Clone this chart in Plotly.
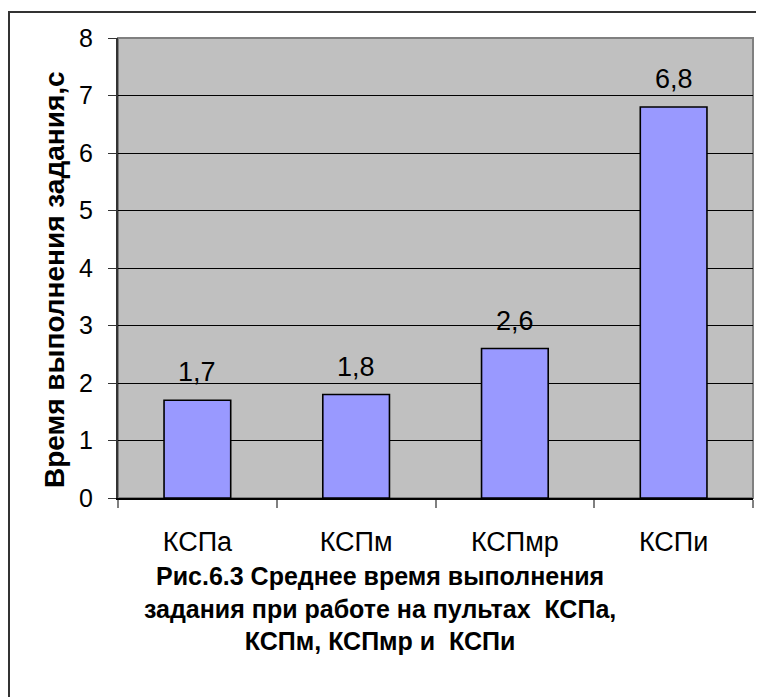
import plotly.graph_objects as go

categories = ["КСПа", "КСПм", "КСПмр", "КСПи"]
values = [1.7, 1.8, 2.6, 6.8]
value_labels = ["1,7", "1,8", "2,6", "6,8"]
y_ticks = [0, 1, 2, 3, 4, 5, 6, 7, 8]
y_title = "Время выполнения задания,с"
caption = "Рис.6.3 Среднее время выполнения<br>задания при работе на пультах  КСПа,<br>КСПм, КСПмр и  КСПи"

FONT = "Liberation Sans, Arial, sans-serif"

fig = go.Figure()
fig.add_trace(go.Bar(
    x=categories, y=values,
    marker=dict(color="#9999FF", line=dict(color="black", width=1.6)),
    width=0.42,
))

for c, v, t in zip(categories, values, value_labels):
    fig.add_annotation(x=c, y=v, text=t, showarrow=False, yanchor="bottom",
                       yshift=11, font=dict(family=FONT, size=27, color="black"))

W, H = 764, 697
L, R, T, B = 110, 19, 30, 207
pw, ph = W - L - R, H - T - B

# y-axis title (placed as rotated annotation to match the reference position)
fig.add_annotation(xref="paper", yref="paper", x=(46 - L) / pw, y=1 - (272 - T) / ph,
                   text=y_title, textangle=-90, showarrow=False,
                   xanchor="center", yanchor="middle",
                   font=dict(family=FONT, size=28, color="black", weight="bold"))

# caption
fig.add_annotation(xref="paper", yref="paper", x=(372 - L) / pw, y=-(552 - (H - B)) / ph,
                   text=caption, showarrow=False, xanchor="center", yanchor="top",
                   align="center",
                   font=dict(family=FONT, size=25, color="black", weight="bold"))

# outer frame
fig.add_shape(type="rect", xref="paper", yref="paper",
              x0=(1 - L) / pw, x1=1.2, y0=-1.0, y1=1 + (T - 4) / ph,
              line=dict(color="#333333", width=2), layer="above")
# plot border (gray)
fig.add_shape(type="rect", xref="paper", yref="paper", x0=0, x1=1, y0=0, y1=1,
              line=dict(color="#808080", width=2), layer="below")

fig.update_layout(
    width=W, height=H,
    margin=dict(l=L, r=R, t=T, b=B, autoexpand=False),
    paper_bgcolor="white", plot_bgcolor="#C0C0C0",
    showlegend=False,
    font=dict(family=FONT, color="black"),
    xaxis=dict(type="category", tickson="boundaries", ticks="outside", ticklen=8,
               tickcolor="#808080", tickwidth=2,
               showline=True, linecolor="black", linewidth=1.5,
               showgrid=False, tickfont=dict(size=27, family=FONT), ticklabelstandoff=19,
               range=[-0.5, 3.5]),
    yaxis=dict(range=[0, 8], tickvals=y_ticks, ticks="outside", ticklen=8,
               tickcolor="#333333", showline=True, linecolor="#333333", linewidth=2,
               showgrid=True, gridcolor="black", gridwidth=1, zeroline=False,
               tickfont=dict(size=25, family=FONT), ticklabelstandoff=10),
)

fig.write_html("out.html")
